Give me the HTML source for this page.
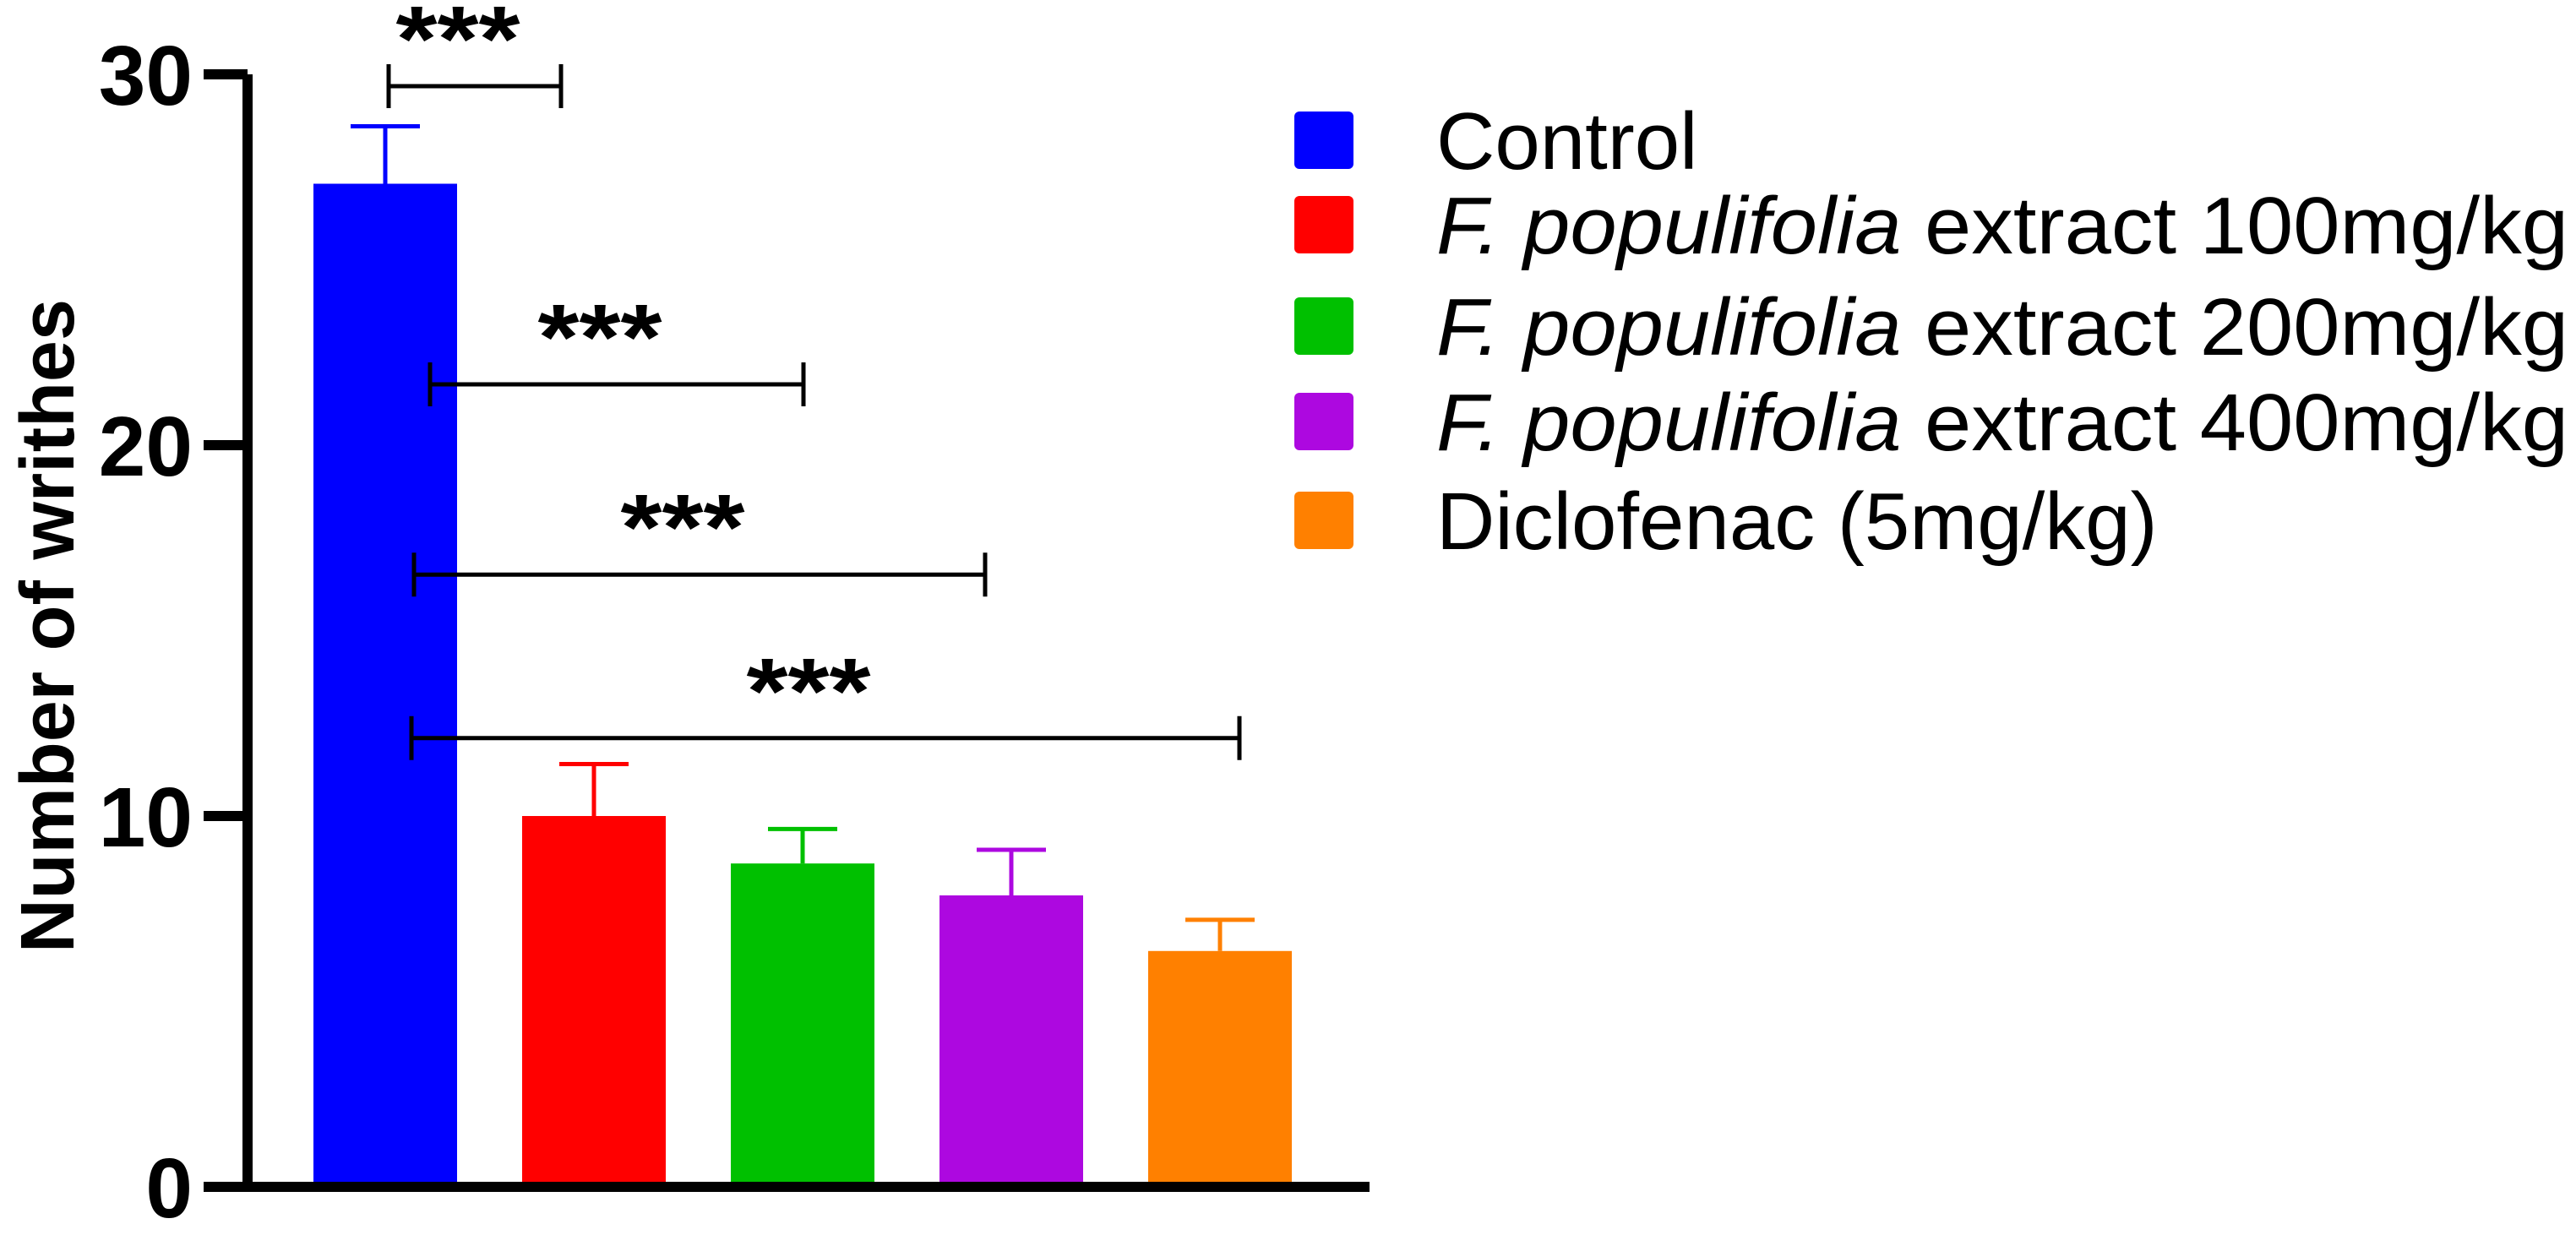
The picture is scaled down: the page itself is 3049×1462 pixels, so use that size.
<!DOCTYPE html>
<html><head><meta charset="utf-8"><style>
html,body{margin:0;padding:0;background:#fff;}
svg{display:block;font-family:"Liberation Sans",Arial,sans-serif;}
</style></head><body>
<svg id="chart" width="3049" height="1462" viewBox="0 0 3049 1462" xmlns="http://www.w3.org/2000/svg">
<g id="plot"></g>
<g id="legend"></g>
</svg>
<script>
const categories = ["Control","F. populifolia extract 100mg/kg","F. populifolia extract 200mg/kg","F. populifolia extract 400mg/kg","Diclofenac (5mg/kg)"];
const means = [27.05, 10.0, 8.72, 7.86, 6.36];
const errors = [1.55, 1.4, 0.93, 1.23, 0.84];
const colors = ["#0000ff","#ff0000","#00c000","#ad08e0","#ff8000"];
const yTicks = [0, 10, 20, 30];
const sigPairs = [[0,1],[0,2],[0,3],[0,4]];
const sigLevels = [29.68, 21.64, 16.51, 12.1];
const sigLabels = ["***","***","***","***"];

const NS = "http://www.w3.org/2000/svg";
const plot = document.getElementById('plot');
const legend = document.getElementById('legend');
function y(v){ return 1405 - v * (1405 - 88) / 30; }
function xc(i){ return 456 + i * 247; }
const BW = 170;
function mk(tag, attrs, parent){ const e = document.createElementNS(NS, tag); for (const k in attrs) e.setAttribute(k, attrs[k]); parent.appendChild(e); return e; }

// bars + error bars
categories.forEach((c, i) => {
  const b = mk('rect', {x: xc(i) - BW/2, y: y(means[i]), width: BW, height: y(0) - y(means[i]), fill: colors[i]}, plot);
  
  
  const e = mk('path', {d: `M${xc(i)},${y(means[i])}V${y(means[i]+errors[i])}M${xc(i)-41},${y(means[i]+errors[i])}H${xc(i)+41}`, stroke: colors[i], 'stroke-width': 5, fill: 'none'}, plot);
  
  
});

// axes
const ax = mk('path', {d: `M293,${y(30)}V${y(0)+6}M241,${y(0)}H1621`, stroke: '#000', 'stroke-width': 12, fill: 'none'}, plot);


yTicks.forEach(t => {
  const tk = mk('line', {x1: 241, x2: 293, y1: y(t), y2: y(t), stroke: '#000', 'stroke-width': 12}, plot);
  
  
  const tl = mk('text', {x: 228, y: y(t) + 36, 'text-anchor': 'end', 'font-size': 100, 'font-weight': 'bold'}, plot);
  tl.textContent = t;
  
  
});
const yt = mk('text', {x: 0, y: 0, transform: 'translate(87,741) rotate(-90)', 'text-anchor': 'middle', 'font-size': 90, 'font-weight': 'bold', textLength: 774, lengthAdjust: 'spacingAndGlyphs'}, plot);
yt.textContent = 'Number of writhes';



// significance brackets
const brX = [[460,664],[509,951],[490,1166],[487,1467]];
sigPairs.forEach((p, k) => {
  const yy = y(sigLevels[k]);
  const x1 = brX[k][0], x2 = brX[k][1];
  const br = mk('path', {d: `M${x1},${yy-26}V${yy+26}M${x2},${yy-26}V${yy+26}M${x1},${yy}H${x2}`, stroke: '#000', 'stroke-width': 5, fill: 'none'}, plot);
  
  
  const st = mk('text', {x: (x1 + x2) / 2 - 20, y: yy - 18, 'text-anchor': 'middle', 'font-size': 110, 'font-weight': 'bold', textLength: 147, lengthAdjust: 'spacingAndGlyphs'}, plot);
  st.textContent = sigLabels[k];
  
  
});

// legend
const rowY = [166, 266, 386, 499, 616];
categories.forEach((c, i) => {
  const sw = mk('rect', {x: 1532, y: rowY[i] - 34, width: 70, height: 68, rx: 6, fill: colors[i]}, legend);
  
  
  const t = mk('text', {x: 1700, y: rowY[i] + 34, 'font-size': 96}, legend);
  
  
  if (c.startsWith('F. populifolia')) {
    t.setAttribute('textLength', 1340);
    t.setAttribute('lengthAdjust', 'spacingAndGlyphs');
    const it = mk('tspan', {'font-style': 'italic'}, t); it.textContent = 'F. populifolia';
    const rest = mk('tspan', {}, t); rest.textContent = c.slice(14);
  } else {
    t.textContent = c;
  }
});
</script>
</body></html>
